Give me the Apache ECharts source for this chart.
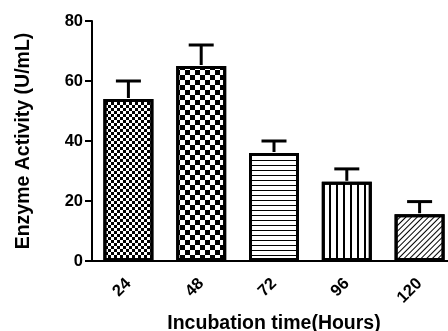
<!DOCTYPE html>
<html>
<head>
<meta charset="utf-8">
<script src="https://cdn.jsdelivr.net/npm/echarts@6/dist/echarts.min.js"></script>
<style>
  html, body { margin: 0; padding: 0; background: #fff; }
  #chart { width: 448px; height: 331px; }
</style>
</head>
<body>
<div id="chart"></div>
<script>
// incubation times (hours)
const hours = ['24', '48', '72', '96', '120'];
// mean enzyme activity (U/mL)
const activity = [54, 65, 36, 26.4, 15.6];
// top of the error bar (mean + SD)
const errTop = [60, 72, 40, 30.7, 19.8];
const yTicks = [0, 20, 40, 60, 80];

const FONT = "'Liberation Sans', Arial, sans-serif";

// fill patterns, one per bar
const decals = [
  { symbol: 'rect', symbolSize: 1, color: '#000', dashArrayX: [[2.5, 2.5], [0, 2.5, 2.5, 0]], dashArrayY: [2.5, 0] },
  { symbol: 'rect', symbolSize: 1, color: '#000', dashArrayX: [[5, 5], [0, 5, 5, 0]], dashArrayY: [5, 0] },
  { symbol: 'rect', symbolSize: 1, color: '#000', dashArrayX: [1, 0], dashArrayY: [1, 3.5] },
  { symbol: 'rect', symbolSize: 1, color: '#000', dashArrayX: [1.5, 4.5], dashArrayY: [1, 0] },
  { symbol: 'rect', symbolSize: 1, color: '#000', dashArrayX: [1, 0], dashArrayY: [1, 2.5], rotation: -Math.PI / 4 }
];

const myChart = echarts.init(document.getElementById('chart'));

const barData = activity.map((v, i) => ({
  value: v,
  itemStyle: { color: '#fff', borderColor: '#000', borderWidth: 3, decal: decals[i] }
}));

myChart.setOption({
  animation: false,
  grid: { left: 92, right: -8, top: 21, bottom: 70, containLabel: false, outerBoundsMode: 'none' },
  xAxis: {
    type: 'category',
    data: hours,
    name: 'Incubation time(Hours)',
    nameLocation: 'middle',
    nameGap: 52,
    nameTextStyle: { fontFamily: FONT, fontWeight: 'bold', fontSize: 19.5, color: '#000' },
    axisLine: { lineStyle: { color: '#000', width: 2 } },
    axisTick: { alignWithLabel: true, length: 5, lineStyle: { color: '#000', width: 2 } },
    axisLabel: { rotate: 45, margin: 20, fontFamily: FONT, fontWeight: 'bold', fontSize: 16.5, color: '#000' }
  },
  yAxis: {
    type: 'value',
    min: 0,
    max: 80,
    interval: 20,
    name: 'Enzyme Activity (U/mL)',
    nameLocation: 'middle',
    nameGap: 58,
    nameTextStyle: { fontFamily: FONT, fontWeight: 'bold', fontSize: 19.5, color: '#000' },
    axisLine: { show: true, lineStyle: { color: '#000', width: 2 } },
    axisTick: { show: true, length: 7, lineStyle: { color: '#000', width: 2 } },
    splitLine: { show: false },
    axisLabel: {
      margin: 9, fontFamily: FONT, fontWeight: 'bold', fontSize: 16.5, color: '#000',
      formatter: v => (yTicks.indexOf(v) >= 0 ? String(v) : '')
    }
  },
  series: [
    {
      type: 'bar',
      barWidth: 50,
      data: barData,
      z: 2
    },
    {
      type: 'custom',
      z: 3,
      data: errTop.map((e, i) => [i, activity[i], e]),
      renderItem: function (params, api) {
        const base = api.coord([api.value(0), api.value(1)]);
        const top = api.coord([api.value(0), api.value(2)]);
        const half = 12.5;
        const style = { stroke: '#000', lineWidth: 3 };
        return {
          type: 'group',
          children: [
            { type: 'line', shape: { x1: top[0], y1: top[1], x2: base[0], y2: base[1] - 1 }, style: style },
            { type: 'line', shape: { x1: top[0] - half, y1: top[1], x2: top[0] + half, y2: top[1] }, style: style }
          ]
        };
      }
    }
  ]
});
</script>
</body>
</html>
